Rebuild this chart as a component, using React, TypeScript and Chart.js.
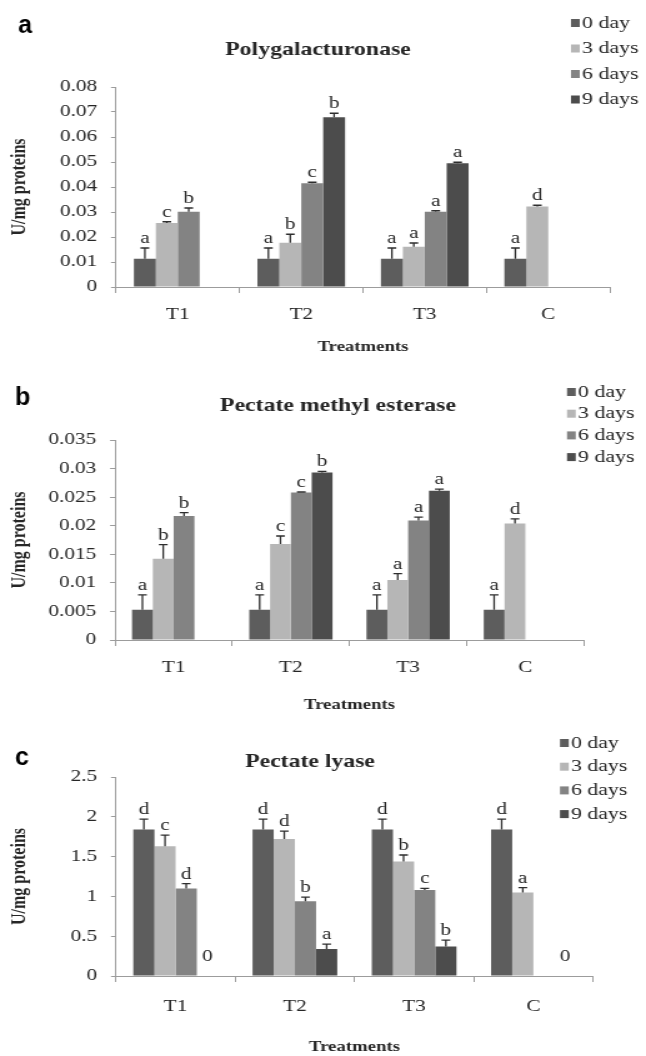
import React, { useEffect, useRef } from "react";
import { Chart, registerables } from "chart.js";

Chart.register(...registerables);

// ---------- shared ----------
const categories = ["T1", "T2", "T3", "C"];
const seriesLabels = ["0 day", "3 days", "6 days", "9 days"];
const seriesColors = ["#5d5d5d", "#b6b6b6", "#838383", "#4c4c4c"];
const xAxisTitle = "Treatments";
const yAxisTitle = "U/mg proteins";

// ---------- (a) Polygalacturonase ----------
const pgDay0 = [0.0113, 0.0113, 0.0113, 0.0113];
const pgDay3 = [0.0256, 0.0177, 0.0161, 0.0322];
const pgDay6 = [0.0301, 0.0415, 0.0301, null];
const pgDay9 = [null, 0.0679, 0.0495, null];
const pgErr0 = [0.0043, 0.0043, 0.0043, 0.0043];
const pgErr3 = [0.0005, 0.0034, 0.0015, 0.0005];
const pgErr6 = [0.0015, 0.0004, 0.0004, null];
const pgErr9 = [null, 0.0016, 0.0004, null];
const pgLetters0 = ["a", "a", "a", "a"];
const pgLetters3 = ["c", "b", "a", "d"];
const pgLetters6 = ["b", "c", "a", ""];
const pgLetters9 = ["", "b", "a", ""];
const pgYTicks = [0, 0.01, 0.02, 0.03, 0.04, 0.05, 0.06, 0.07, 0.08];

// ---------- (b) Pectate methyl esterase ----------
const pmeDay0 = [0.0053, 0.0053, 0.0053, 0.0053];
const pmeDay3 = [0.0142, 0.0168, 0.0105, 0.0204];
const pmeDay6 = [0.0217, 0.0258, 0.0209, null];
const pmeDay9 = [null, 0.0293, 0.0261, null];
const pmeErr0 = [0.0026, 0.0026, 0.0026, 0.0026];
const pmeErr3 = [0.0025, 0.0014, 0.0011, 0.0008];
const pmeErr6 = [0.0006, 0.0001, 0.0006, null];
const pmeErr9 = [null, 0.0002, 0.0003, null];
const pmeLetters0 = ["a", "a", "a", "a"];
const pmeLetters3 = ["b", "c", "a", "d"];
const pmeLetters6 = ["b", "c", "a", ""];
const pmeLetters9 = ["", "b", "a", ""];
const pmeYTicks = [0, 0.005, 0.01, 0.015, 0.02, 0.025, 0.03, 0.035];

// ---------- (c) Pectate lyase ----------
const plDay0 = [1.84, 1.84, 1.84, 1.84];
const plDay3 = [1.63, 1.72, 1.44, 1.05];
const plDay6 = [1.1, 0.94, 1.08, null];
const plDay9 = [0, 0.34, 0.37, 0];
const plErr0 = [0.13, 0.13, 0.13, 0.13];
const plErr3 = [0.14, 0.1, 0.08, 0.06];
const plErr6 = [0.06, 0.05, 0.02, null];
const plErr9 = [null, 0.06, 0.08, null];
const plLetters0 = ["d", "d", "d", "d"];
const plLetters3 = ["c", "d", "b", "a"];
const plLetters6 = ["d", "b", "c", ""];
const plLetters9 = ["0", "a", "b", "0"];
const plYTicks = [0, 0.5, 1, 1.5, 2, 2.5];

// ---------- layout ----------
const W = 517; // internal canvas width, stretched horizontally to 646
const S = 646 / W;
const AXIS = "#9c9c9c";
const TEXT = "#262626";
const ERR = "#2e2e2e";
const SERIF = '"Liberation Serif", "Times New Roman", serif';

type Panel = {
  key: string;
  letter: string;
  title: string;
  top: number;
  height: number;
  areaLeft: number;
  areaRight: number;
  areaTop: number;
  areaBottom: number;
  labelPad: number;
  titleX: number;
  titleY: number;
  legendX: number;
  legendY: number;
  legendStep: number;
  letterX: number;
  letterBase: number;
  yTicks: number[];
  values: (number | null)[][];
  errors: (number | null)[][];
  letters: string[][];
};

const panels: Panel[] = [
  {
    key: "a", letter: "a", title: "Polygalacturonase",
    top: 0, height: 356,
    areaLeft: 116, areaRight: 610, areaTop: 87, areaBottom: 287, labelPad: 11,
    titleX: 318, titleY: 50,
    legendX: 571, legendY: 23, legendStep: 25.5,
    letterX: 18, letterBase: 33,
    yTicks: pgYTicks,
    values: [pgDay0, pgDay3, pgDay6, pgDay9],
    errors: [pgErr0, pgErr3, pgErr6, pgErr9],
    letters: [pgLetters0, pgLetters3, pgLetters6, pgLetters9],
  },
  {
    key: "b", letter: "b", title: "Pectate methyl esterase",
    top: 356, height: 358,
    areaLeft: 115, areaRight: 584, areaTop: 84, areaBottom: 284, labelPad: 11,
    titleX: 338, titleY: 50,
    legendX: 567, legendY: 36, legendStep: 21.7,
    letterX: 15, letterBase: 49,
    yTicks: pmeYTicks,
    values: [pmeDay0, pmeDay3, pmeDay6, pmeDay9],
    errors: [pmeErr0, pmeErr3, pmeErr6, pmeErr9],
    letters: [pmeLetters0, pmeLetters3, pmeLetters6, pmeLetters9],
  },
  {
    key: "c", letter: "c", title: "Pectate lyase",
    top: 714, height: 342,
    areaLeft: 116, areaRight: 593, areaTop: 63, areaBottom: 262, labelPad: 14,
    titleX: 310, titleY: 48,
    legendX: 560, legendY: 29, legendStep: 23.7,
    letterX: 15, letterBase: 51,
    yTicks: plYTicks,
    values: [plDay0, plDay3, plDay6, plDay9],
    errors: [plErr0, plErr3, plErr6, plErr9],
    letters: [plLetters0, plLetters3, plLetters6, plLetters9],
  },
];

function makeOverlay(p: Panel) {
  return {
    id: "overlay-" + p.key,
    afterDatasetsDraw(chart: any) {
      const ctx = chart.ctx as CanvasRenderingContext2D;
      const ys = chart.scales.y;
      ctx.save();
      p.values.forEach((vals, i) => {
        const meta = chart.getDatasetMeta(i);
        vals.forEach((v, j) => {
          if (v === null || v === undefined) return;
          const el = meta.data[j];
          if (!el) return;
          const x = el.x;
          const base = ys.getPixelForValue(v);
          const err = p.errors[i][j];
          let topPx = base;
          if (err) {
            topPx = ys.getPixelForValue(v + err);
            ctx.strokeStyle = ERR;
            ctx.lineWidth = 1.3;
            ctx.beginPath();
            ctx.moveTo(x, base);
            ctx.lineTo(x, topPx);
            ctx.moveTo(x - 3.5, topPx);
            ctx.lineTo(x + 3.5, topPx);
            ctx.stroke();
          }
          const label = p.letters[i][j];
          if (label) {
            ctx.fillStyle = TEXT;
            ctx.font = `17px ${SERIF}`;
            ctx.textAlign = "center";
            ctx.textBaseline = "alphabetic";
            ctx.fillText(label, x, topPx - (v === 0 ? 15 : 5));
          }
        });
      });
      ctx.restore();
    },
    afterDraw(chart: any) {
      const ctx = chart.ctx as CanvasRenderingContext2D;
      ctx.save();
      // chart title
      ctx.fillStyle = TEXT;
      ctx.font = `bold 19px ${SERIF}`;
      ctx.textAlign = "center";
      ctx.textBaseline = "middle";
      ctx.fillText(p.title, p.titleX / S, p.titleY);
      // legend
      seriesLabels.forEach((lab, i) => {
        const yc = p.legendY + i * p.legendStep;
        ctx.fillStyle = seriesColors[i];
        ctx.fillRect(p.legendX / S, yc - 4, 7, 8);
        ctx.fillStyle = TEXT;
        ctx.font = `17.5px ${SERIF}`;
        ctx.textAlign = "left";
        ctx.textBaseline = "middle";
        ctx.fillText(lab, (p.legendX + 11) / S, yc);
      });
      // panel letter (not stretched)
      ctx.scale(1 / S, 1);
      ctx.fillStyle = "#000";
      ctx.font = 'bold 25px "Liberation Sans", Arial, sans-serif';
      ctx.textAlign = "left";
      ctx.textBaseline = "alphabetic";
      ctx.fillText(p.letter, p.letterX, p.letterBase);
      ctx.restore();
    },
  };
}

function PanelChart({ p }: { p: Panel }) {
  const ref = useRef<HTMLCanvasElement | null>(null);
  useEffect(() => {
    if (!ref.current) return;
    const chart = new Chart(ref.current, {
      type: "bar",
      data: {
        labels: categories,
        datasets: p.values.map((vals, i) => ({
          label: seriesLabels[i],
          data: vals,
          backgroundColor: seriesColors[i],
          borderWidth: 0,
          categoryPercentage: 0.71,
          barPercentage: 1,
        })),
      },
      options: {
        responsive: false,
        animation: false,
        devicePixelRatio: 1,
        layout: {
          padding: { left: 0, top: p.areaTop, right: W - p.areaRight / S, bottom: 0 },
        },
        plugins: {
          legend: { display: false },
          title: { display: false },
          tooltip: { enabled: false },
        },
        scales: {
          x: {
            grid: { offset: true, drawOnChartArea: false, tickLength: 6, color: AXIS },
            border: { color: AXIS },
            ticks: { font: { family: SERIF, size: 17 }, color: TEXT, padding: p.labelPad },
            title: {
              display: true,
              text: xAxisTitle,
              font: { family: SERIF, size: 15, weight: "bold" },
              color: TEXT,
              padding: { top: 0, bottom: 0 },
            },
            afterFit: (s: any) => {
              s.height = p.height - p.areaBottom;
            },
          },
          y: {
            min: 0,
            max: p.yTicks[p.yTicks.length - 1],
            afterBuildTicks: (s: any) => {
              s.ticks = p.yTicks.map((v) => ({ value: v }));
            },
            grid: { drawOnChartArea: false, tickLength: 4, color: AXIS },
            border: { color: AXIS },
            ticks: {
              font: { family: SERIF, size: 17 },
              color: TEXT,
              padding: 11,
              callback: (v: any) => String(v),
            },
            title: {
              display: true,
              text: yAxisTitle,
              font: { family: SERIF, size: 16, weight: "bold" },
              color: TEXT,
              padding: { top: 6, bottom: 0 },
            },
            afterFit: (s: any) => {
              s.width = p.areaLeft / S;
            },
          },
        },
      },
      plugins: [makeOverlay(p)],
    } as any);
    return () => chart.destroy();
  }, [p]);

  return (
    <div
      style={{
        position: "absolute",
        left: 0,
        top: p.top,
        width: W,
        height: p.height,
        transform: `scaleX(${S})`,
        transformOrigin: "0 0",
      }}
    >
      <canvas ref={ref} width={W} height={p.height} style={{ display: "block" }} />
    </div>
  );
}

export default function App() {
  return (
    <div
      style={{
        position: "absolute",
        left: 0,
        top: 0,
        width: 646,
        height: 1056,
        background: "#fff",
        overflow: "hidden",
      }}
    >
      {panels.map((p) => (
        <PanelChart key={p.key} p={p} />
      ))}
    </div>
  );
}
